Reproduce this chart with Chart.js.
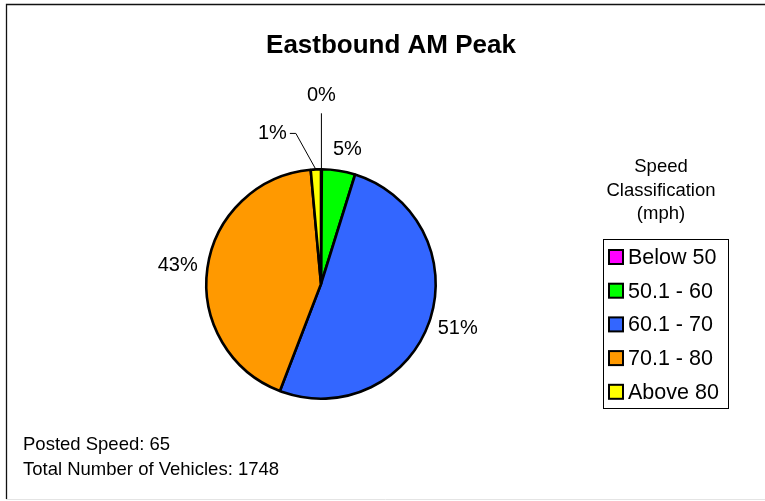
<!DOCTYPE html>
<html>
<head>
<meta charset="utf-8">
<script src="https://cdn.jsdelivr.net/npm/chart.js@4.4.0/dist/chart.umd.min.js"></script>
<style>
  html, body { margin: 0; padding: 0; background: #fff; }
  #wrap { width: 765px; height: 501px; }
</style>
</head>
<body>
<div id="wrap"><canvas id="speedChart" width="765" height="501"></canvas></div>
<script>
// speed classes and vehicle counts for the eastbound AM peak
const speedClasses = ['Below 50', '50.1 - 60', '60.1 - 70', '70.1 - 80', 'Above 80'];
const vehicleCounts = [2, 82, 892, 747, 25];
const classColors = ['#FF00FF', '#00FF00', '#3366FF', '#FF9900', '#FFFF00'];
const chartTitle = 'Eastbound AM Peak';
const legendTitle = ['Speed', 'Classification', '(mph)'];
const postedSpeed = 65;

const totalVehicles = vehicleCounts.reduce((a, b) => a + b, 0);
const FONT = "'Liberation Sans', Arial, sans-serif";

// small slices get a leader line instead of a plain label
let calloutOffsets = {
    0: { path: [[0, -56]], text: [0, -74], align: 'center' },
    4: { path: [[-20, -36], [-26, -36]], text: [-29, -36], align: 'right' }
};
// little nudges for labels that sit close to the top
let labelNudge = { 1: [5, -1] };

let decorPlugin = {
    id: 'decor',
    beforeDraw(chart) {
        const c = chart.ctx;
        c.save();
        c.fillStyle = '#fff';
        c.fillRect(0, 0, chart.width, chart.height);
        // frame
        c.strokeStyle = '#111';
        c.lineWidth = 1.3;
        c.beginPath();
        c.moveTo(6.5, 499);
        c.lineTo(6.5, 4.5);
        c.lineTo(chart.width, 4.5);
        c.stroke();
        c.strokeStyle = '#e4e4e4';
        c.lineWidth = 1;
        c.beginPath();
        c.moveTo(6, 499.5);
        c.lineTo(chart.width, 499.5);
        c.stroke();
        c.restore();
    },
    afterDatasetsDraw(chart) {
        const c = chart.ctx;
        const meta = chart.getDatasetMeta(0);
        c.save();
        c.fillStyle = '#000';
        c.strokeStyle = '#000';
        c.lineWidth = 1;
        c.font = '20px ' + FONT;
        c.textBaseline = 'middle';

        meta.data.forEach((arc, i) => {
            const p = arc.getProps(['x', 'y', 'startAngle', 'endAngle', 'outerRadius'], true);
            const mid = (p.startAngle + p.endAngle) / 2;
            const dx = Math.cos(mid), dy = Math.sin(mid);
            const label = Math.round(vehicleCounts[i] / totalVehicles * 100) + '%';
            const co = calloutOffsets[i];
            if (co) {
                const ex = p.x + dx * p.outerRadius;
                const ey = p.y + dy * p.outerRadius;
                c.beginPath();
                c.moveTo(ex, ey);
                co.path.forEach(pt => c.lineTo(ex + pt[0], ey + pt[1]));
                c.stroke();
                c.textAlign = co.align;
                c.fillText(label, ex + co.text[0], ey + co.text[1]);
            } else {
                const w = c.measureText(label).width;
                const h = 20;
                const r = p.outerRadius + 10;
                const n = labelNudge[i] || [0, 0];
                c.textAlign = 'center';
                c.fillText(label, p.x + dx * r + dx * w / 2 + n[0], p.y + dy * r + dy * h / 2 + n[1]);
            }
        });
        c.restore();
    },
    afterDraw(chart) {
        const c = chart.ctx;
        c.save();
        c.fillStyle = '#000';
        c.textBaseline = 'middle';

        // title
        c.textAlign = 'center';
        c.font = 'bold 26px ' + FONT;
        c.fillText(chartTitle, 391, 46);

        // legend heading
        c.font = '18.5px ' + FONT;
        legendTitle.forEach((t, i) => c.fillText(t, 661, 167 + i * 23.5));

        // legend box
        c.strokeStyle = '#000';
        c.lineWidth = 1;
        c.strokeRect(603.5, 239.5, 125, 169);
        c.textAlign = 'left';
        c.font = '21.5px ' + FONT;
        speedClasses.forEach((name, i) => {
            const y = 257 + i * 33.7;
            c.fillStyle = classColors[i];
            c.fillRect(609, y - 7, 14, 14);
            c.lineWidth = 2;
            c.strokeRect(609, y - 7, 14, 14);
            c.fillStyle = '#000';
            c.fillText(name, 628, y + 1);
        });

        // footer notes
        c.font = '18.5px ' + FONT;
        c.fillText('Posted Speed: ' + postedSpeed, 23, 445);
        c.fillText('Total Number of Vehicles: ' + totalVehicles, 23, 470);
        c.restore();
    }
};

let speedChart = new Chart(document.getElementById('speedChart'), {
    type: 'pie',
    data: {
        labels: speedClasses,
        datasets: [{
            data: vehicleCounts,
            backgroundColor: classColors,
            borderColor: '#000',
            borderWidth: 2.6,
            hoverOffset: 0
        }]
    },
    options: {
        responsive: false,
        animation: false,
        layout: { padding: { left: 205, right: 328, top: 168, bottom: 101 } },
        plugins: {
            legend: { display: false },
            title: { display: false },
            tooltip: { enabled: false }
        }
    },
    plugins: [decorPlugin]
});
</script>
</body>
</html>
